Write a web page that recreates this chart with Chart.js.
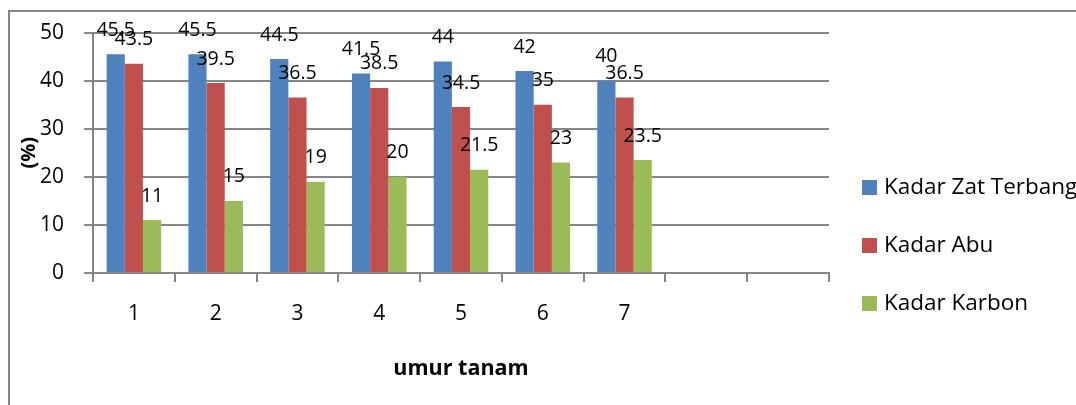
<!DOCTYPE html>
<html>
<head>
<meta charset="utf-8">
<title>Kadar Zat Terbang, Abu dan Karbon menurut umur tanam</title>
<script src="https://cdn.jsdelivr.net/npm/chart.js@4/dist/chart.umd.min.js"></script>
<style>
  html, body { margin: 0; padding: 0; background: #ffffff; }
  #wrap { width: 1076px; height: 405px; position: relative; overflow: hidden; }
  canvas { display: block; }
</style>
</head>
<body>
<div id="wrap"><canvas id="chart" width="1076" height="405"></canvas></div>
<script>
// Umur tanam (two trailing empty slots keep the axis room on the right)
const categories = ['1', '2', '3', '4', '5', '6', '7', '', ''];

// Kadar (%) per umur tanam
const kadarZatTerbang = [45.5, 45.5, 44.5, 41.5, 44, 42, 40];
const kadarAbu        = [43.5, 39.5, 36.5, 38.5, 34.5, 35, 36.5];
const kadarKarbon     = [11, 15, 19, 20, 21.5, 23, 23.5];

const seriesNames = ['Kadar Zat Terbang', 'Kadar Abu', 'Kadar Karbon'];
const yTicks = [0, 10, 20, 30, 40, 50];

const GRID = '#868686';
const FONT = "'Open Sans', 'Liberation Sans', sans-serif";

Chart.defaults.font.family = FONT;
Chart.defaults.color = '#000000';

// Value labels above each bar
const valueLabels = {
  id: 'valueLabels',
  afterDatasetsDraw(chart) {
    const ctx = chart.ctx;
    ctx.save();
    ctx.font = '19.5px ' + FONT;
    ctx.fillStyle = '#000000';
    ctx.textAlign = 'center';
    ctx.textBaseline = 'middle';
    chart.data.datasets.forEach((ds, i) => {
      const meta = chart.getDatasetMeta(i);
      meta.data.forEach((bar, j) => {
        const v = ds.data[j];
        if (v === null || v === undefined) return;
        ctx.fillText(String(v), bar.x, bar.y - 24);
      });
    });
    ctx.restore();
  }
};

// Legend column at the right of the plot
const sideLegend = {
  id: 'sideLegend',
  afterDraw(chart) {
    const ctx = chart.ctx;
    ctx.save();
    ctx.font = '22.5px ' + FONT;
    ctx.textAlign = 'left';
    ctx.textBaseline = 'middle';
    chart.data.datasets.forEach((ds, i) => {
      const cy = 187 + i * 58;
      ctx.fillStyle = ds.backgroundColor;
      ctx.fillRect(862, cy - 7, 15, 15);
      ctx.fillStyle = '#000000';
      ctx.fillText(ds.label, 884, cy + 1);
    });
    ctx.restore();
  }
};

// Outer frame of the chart object
const outerFrame = {
  id: 'outerFrame',
  beforeDraw(chart) {
    const ctx = chart.ctx;
    ctx.save();
    ctx.strokeStyle = GRID;
    ctx.lineWidth = 2;
    ctx.beginPath();
    ctx.moveTo(9, chart.height + 2);
    ctx.lineTo(9, 11);
    ctx.lineTo(chart.width + 2, 11);
    ctx.stroke();
    ctx.restore();
  }
};

new Chart(document.getElementById('chart'), {
  type: 'bar',
  data: {
    labels: categories,
    datasets: [
      { label: seriesNames[0], data: kadarZatTerbang, backgroundColor: '#4F81BD' },
      { label: seriesNames[1], data: kadarAbu,        backgroundColor: '#C0504D' },
      { label: seriesNames[2], data: kadarKarbon,     backgroundColor: '#9BBB59' }
    ]
  },
  options: {
    responsive: false,
    animation: false,
    devicePixelRatio: 1,
    layout: { padding: { top: 30, right: 247, bottom: 0, left: 0 } },
    datasets: { bar: { categoryPercentage: 0.667, barPercentage: 1.0, borderWidth: 0 } },
    plugins: {
      legend: { display: false },
      tooltip: { enabled: false }
    },
    scales: {
      x: {
        offset: true,
        grid: {
          offset: true,
          drawOnChartArea: false,
          drawTicks: true,
          tickLength: 9,
          color: GRID,
          lineWidth: 2
        },
        border: { display: true, color: GRID, width: 2 },
        ticks: {
          font: { size: 21 },
          padding: 19,
          maxRotation: 0,
          autoSkip: false
        },
        title: {
          display: true,
          text: 'umur tanam',
          font: { size: 21.5, weight: 'bold' },
          padding: { top: 0, bottom: 23 }
        },
        afterFit(scale) { scale.height = 132; }
      },
      y: {
        min: 0,
        max: 50,
        afterBuildTicks(scale) { scale.ticks = yTicks.map(v => ({ value: v })); },
        grid: {
          drawTicks: true,
          tickLength: 9,
          color: GRID,
          lineWidth: 2
        },
        border: { display: true, color: GRID, width: 2 },
        ticks: {
          font: { size: 21 },
          padding: 20
        },
        title: {
          display: true,
          text: '(%)',
          font: { size: 20, weight: 'bold' },
          padding: { top: 17, bottom: 0 }
        },
        afterFit(scale) { scale.width = 93; }
      }
    }
  },
  plugins: [outerFrame, valueLabels, sideLegend]
});
</script>
</body>
</html>
